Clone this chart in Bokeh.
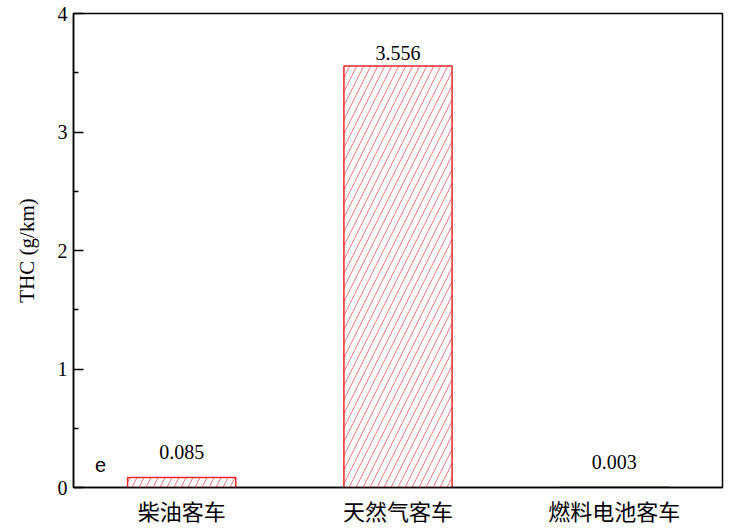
from bokeh.plotting import figure
from bokeh.models import ColumnDataSource, FactorRange, Label, FixedTicker
from bokeh.embed import file_html
from bokeh.resources import INLINE
from bokeh.core.properties import value

categories = ["柴油客车", "天然气客车", "燃料电池客车"]
thc_values = [0.085, 3.556, 0.003]
value_labels = ["0.085", "3.556", "0.003"]
bar_colors = ["#e8262a", "#e8262a", "#2f6b3a"]
y_ticks = [0, 1, 2, 3, 4]

src = ColumnDataSource(dict(
    cat=categories, val=thc_values, lab=value_labels, col=bar_colors,
    yoff=[-18 if v < 1 else -6 for v in thc_values],
))

p = figure(x_range=FactorRange(*categories, range_padding=0), y_range=(0, 4),
           width=724, height=529, output_backend="svg", toolbar_location=None,
           min_border_left=73, min_border_right=2, min_border_top=13, min_border_bottom=42)
p.background_fill_color = "white"
p.border_fill_color = "white"
p.outline_line_color = "black"
p.outline_line_width = 1.5
p.xgrid.visible = False
p.ygrid.visible = False

p.vbar(x="cat", top="val", bottom=0, width=0.5, source=src,
       fill_color="white", line_color="col", line_width=1.5,
       hatch_pattern="/", hatch_color="col", hatch_alpha=0.75,
       hatch_scale=14, hatch_weight=0.8)

p.text(x="cat", y="val", text="lab", source=src, y_offset="yoff",
       text_align="center", text_baseline="bottom",
       text_font=value("Liberation Serif"), text_font_size="20px", text_color="black")

p.add_layout(Label(x=0.125, y=0.19, text="e", text_align="center", text_baseline="middle",
                   text_font="Liberation Sans", text_font_size="20px", text_color="black"))

ya = p.yaxis[0]
ya.ticker = FixedTicker(ticks=y_ticks, minor_ticks=[0.5, 1.5, 2.5, 3.5])
ya.axis_label = "THC (g/km)"
ya.axis_label_text_font = "Liberation Serif"
ya.axis_label_text_font_size = "21px"
ya.axis_label_text_font_style = "normal"
ya.axis_label_text_color = "black"
ya.axis_label_standoff = 16
ya.major_label_text_font = "Liberation Serif"
ya.major_label_text_font_size = "20px"
ya.major_label_text_color = "black"
ya.major_label_standoff = 6
ya.major_tick_in = 10
ya.major_tick_out = 0
ya.minor_tick_in = 5
ya.minor_tick_out = 0
ya.axis_line_color = "black"
ya.major_tick_line_color = "black"
ya.minor_tick_line_color = "black"
ya.axis_line_width = 1.5
ya.major_tick_line_width = 1.5
ya.minor_tick_line_width = 1.5

xa = p.xaxis[0]
xa.major_label_text_font = "Noto Sans CJK SC"
xa.major_label_text_font_size = "22px"
xa.major_label_text_color = "black"
xa.major_label_standoff = 6
xa.major_tick_in = 0
xa.major_tick_out = 0
xa.axis_line_color = "black"
xa.axis_line_width = 1.5

open("out.html", "w").write(file_html(p, INLINE))
